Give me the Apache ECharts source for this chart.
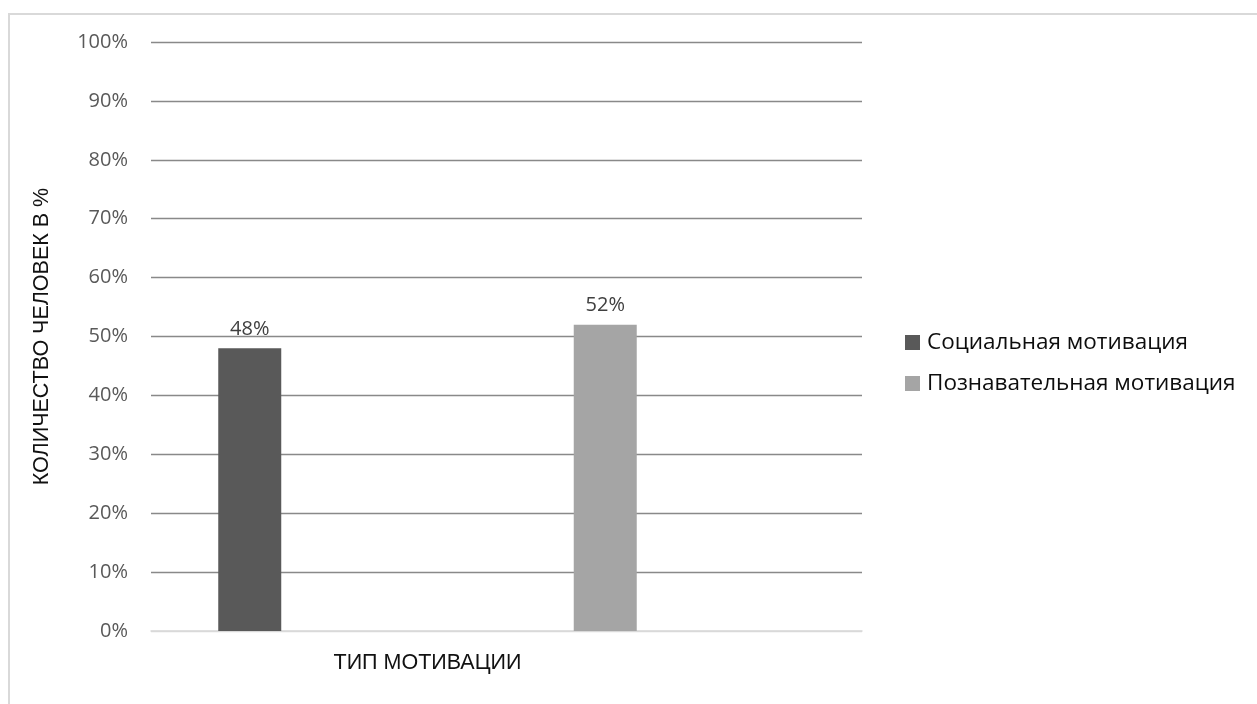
<!DOCTYPE html>
<html>
<head>
<meta charset="utf-8">
<script src="https://cdn.jsdelivr.net/npm/echarts@6/dist/echarts.min.js"></script>
<style>
  html, body { margin: 0; padding: 0; background: #fff; }
  #chart { position: absolute; left: 0; top: 0; width: 1257px; height: 704px; }
  #frame { position: absolute; left: 8px; top: 13px; right: 0; bottom: 0;
           border-top: 2px solid #d9d9d9; border-left: 2px solid #d9d9d9; pointer-events: none; }
</style>
</head>
<body>
<div id="chart"></div>
<div id="frame"></div>
<script>
// Motivation types and the share of people (%) for each
const categories = ['Социальная мотивация', 'Познавательная мотивация'];
const values = [48, 52];
const colors = ['#595959', '#a5a5a5'];
const yTicks = [0, 10, 20, 30, 40, 50, 60, 70, 80, 90, 100];
const yAxisTitle = 'КОЛИЧЕСТВО ЧЕЛОВЕК В %';
const xAxisTitle = 'ТИП МОТИВАЦИИ';

const chart = echarts.init(document.getElementById('chart'), null, { renderer: 'canvas' });

// One stacked slot per category holds that type's bar; an empty spacer slot sits to its right
const series = categories.map((name, i) => ({
  name: name,
  type: 'bar',
  stack: 'share',
  barWidth: 63,
  barGap: '150.8%',
  itemStyle: { color: colors[i] },
  data: categories.map((_, j) => (j === i ? values[i] : '-')),
  label: {
    show: true,
    position: 'top',
    distance: 9,
    formatter: p => p.value + '%',
    color: '#404040',
    fontFamily: 'Open Sans',
    fontSize: 20
  }
}));
series.push({
  name: 'spacer',
  type: 'bar',
  barWidth: 63,
  silent: true,
  data: categories.map(() => '-')
});

chart.setOption({
  animation: false,
  grid: { left: 151, right: 395, top: 42, bottom: 73, containLabel: false },
  legend: {
    data: categories,
    orient: 'vertical',
    left: 905,
    top: 331,
    padding: 0,
    itemWidth: 15,
    itemHeight: 15,
    itemGap: 18,
    icon: 'rect',
    textStyle: { color: '#0d0d0d', fontFamily: 'Open Sans', fontSize: 22.5, padding: [0, 0, 0, 2] }
  },
  xAxis: {
    type: 'category',
    data: categories,
    axisLine: { show: true, lineStyle: { color: '#d9d9d9', width: 1.5 } },
    axisTick: { show: false },
    axisLabel: { show: false },
    name: xAxisTitle,
    nameLocation: 'middle',
    nameGap: 21,
    nameTextStyle: {
      color: '#111',
      fontFamily: 'Liberation Sans',
      fontSize: 21.5,
      padding: [0, 158, 0, 0]
    }
  },
  yAxis: {
    type: 'value',
    min: yTicks[0],
    max: yTicks[yTicks.length - 1],
    interval: yTicks[1] - yTicks[0],
    axisLine: { show: false },
    axisTick: { show: false },
    splitLine: {
      show: true,
      lineStyle: { color: yTicks.map((t, i) => (i === 0 ? '#d9d9d9' : '#898989')), width: 1.3 }
    },
    axisLabel: {
      formatter: '{value}%',
      color: '#595959',
      fontFamily: 'Open Sans',
      fontSize: 20,
      margin: 23
    },
    name: yAxisTitle,
    nameLocation: 'middle',
    nameRotate: 90,
    nameGap: 98,
    nameTextStyle: { color: '#111', fontFamily: 'Liberation Sans', fontSize: 21.5 }
  },
  series: series
});
</script>
</body>
</html>
